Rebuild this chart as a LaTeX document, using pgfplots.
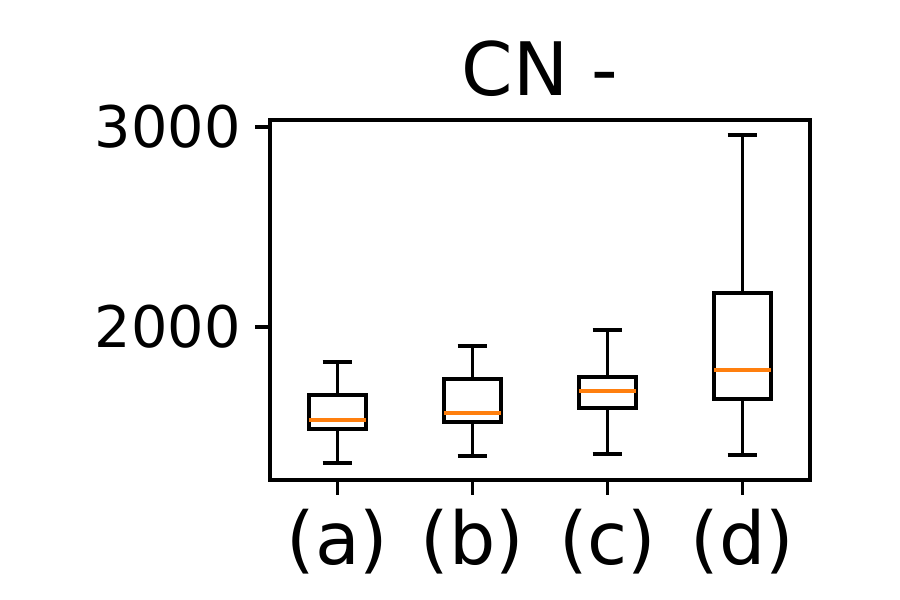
\documentclass[border=0pt]{standalone}
\usepackage{fontspec}
\setmainfont{DejaVu Sans}
\usepackage{pgfplots}
\pgfplotsset{compat=1.18}
\usepgfplotslibrary{statistics}
\definecolor{morange}{RGB}{255,127,14}
\begin{document}
\begin{tikzpicture}
\begin{axis}[
  scale only axis, width=129.6pt, height=86.4pt,
  xmin=0.5, xmax=4.5, ymin=1235, ymax=3035,
  xtick={1,2,3,4}, xticklabels={(a),(b),(c),(d)},
  ytick={2000,3000},
  /pgf/number format/assume math mode=true,
  /pgf/number format/1000 sep={},
  x tick label style={font=\fontsize{17.5}{20}\selectfont},
  y tick label style={font=\fontsize{13.75}{16}\selectfont},
  tick align=outside, tick pos=left, major tick length=3.5pt,
  every tick/.style={line width=0.8pt, black},
  axis line style={line width=0.8pt},
  title={CN -}, title style={font=\fontsize{17.7}{20}\selectfont, yshift=-4pt},
  boxplot/draw direction=y,
  boxplot/box extend=0.42,
  boxplot/whisker extend=0.22,
  every boxplot/.style={draw=black, line width=0.8pt},
]
\addplot+[black, boxplot prepared={draw position=1, lower whisker=1320, lower quartile=1490, median=1535, upper quartile=1660, upper whisker=1825}, boxplot/every median/.style={draw=morange, line width=0.8pt}] coordinates {};
\addplot+[black, boxplot prepared={draw position=2, lower whisker=1355, lower quartile=1525, median=1570, upper quartile=1740, upper whisker=1905}, boxplot/every median/.style={draw=morange, line width=0.8pt}] coordinates {};
\addplot+[black, boxplot prepared={draw position=3, lower whisker=1365, lower quartile=1595, median=1680, upper quartile=1750, upper whisker=1985}, boxplot/every median/.style={draw=morange, line width=0.8pt}] coordinates {};
\addplot+[black, boxplot prepared={draw position=4, lower whisker=1360, lower quartile=1640, median=1785, upper quartile=2170, upper whisker=2960}, boxplot/every median/.style={draw=morange, line width=0.8pt}] coordinates {};
\end{axis}
\path[use as bounding box] (-64.8pt,-28.8pt) rectangle (151.2pt,115.2pt);
\end{tikzpicture}
\end{document}
